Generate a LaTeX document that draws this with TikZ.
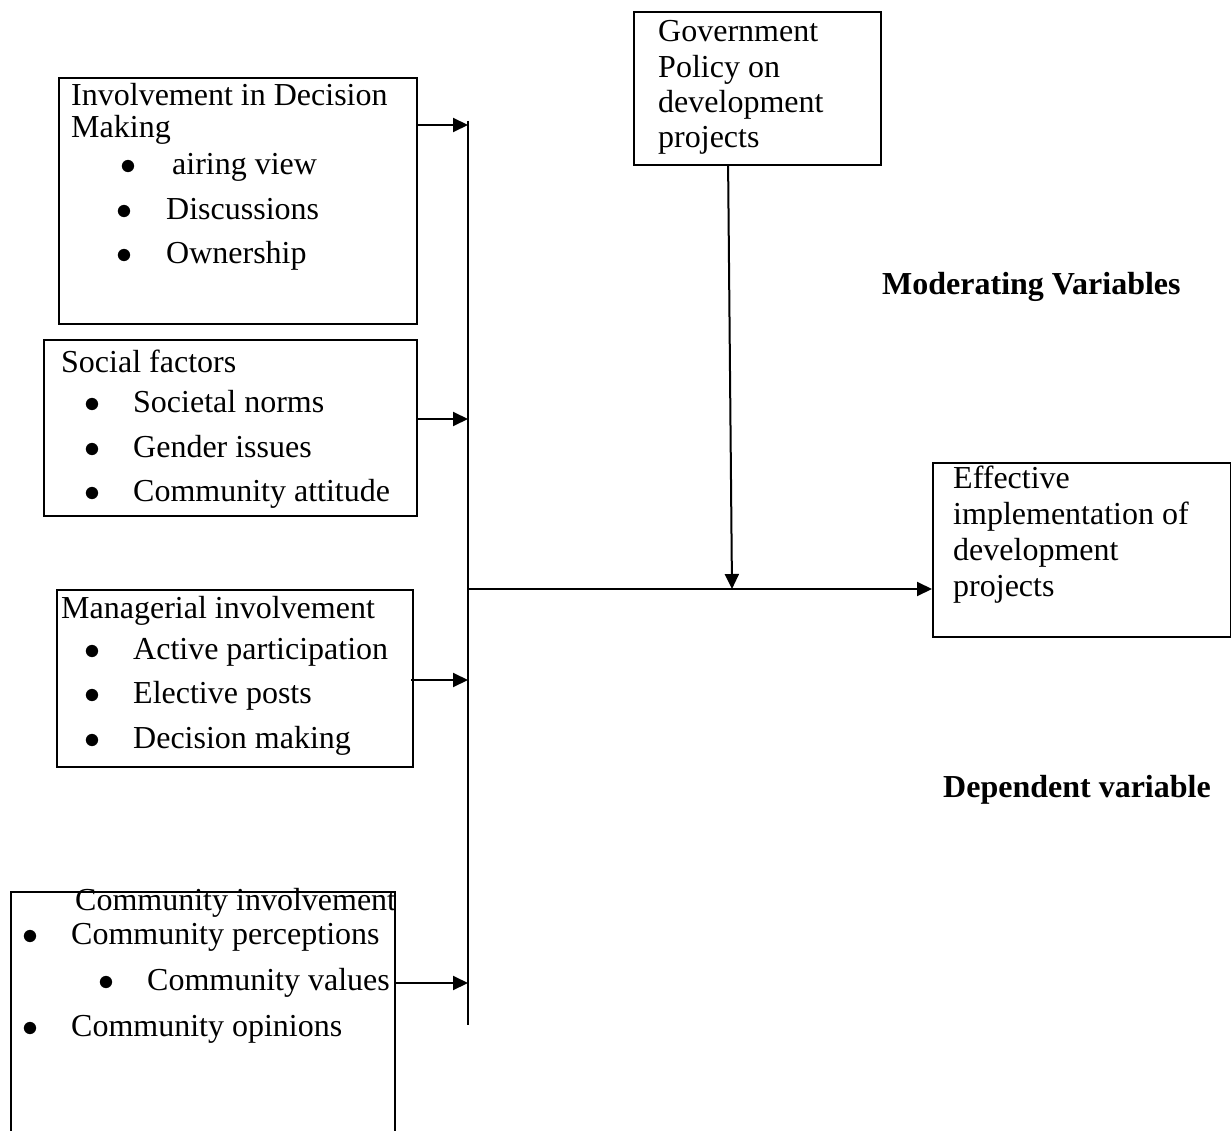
\documentclass[tikz,border=0pt]{standalone}
\usepackage{fix-cm}
\usepackage{fontspec}
\setmainfont{Liberation Serif}
\usetikzlibrary{arrows.meta}
\newcommand\bitem[5]{\node[txt] (#1) at (#2,#4) {\makebox[0pt]{$\bullet$}\hspace{\dimexpr #3pt-#2pt\relax}#5};}
\begin{document}
\begin{tikzpicture}[x=1pt,y=-1pt,
  box/.style={draw,line width=2.2pt,inner sep=0pt,anchor=north west},
  txt/.style={anchor=base west,inner sep=0pt,font=\fontsize{32}{36}\selectfont},
  lbl/.style={anchor=base west,inner sep=0pt,font=\fontsize{32}{36}\selectfont\bfseries},
  conn/.style={line width=2pt},
  arr/.style={line width=2pt,-{Triangle[length=15pt,width=14pt]}}]
\useasboundingbox (0,0) rectangle (1231,1131);
\clip (0,0) rectangle (1231,1131);
\fill[white] (0,0) rectangle (1231,1131);

% boxes
\node[box,minimum width=358pt,minimum height=246pt] (b1) at (58,77) {};
\node[box,minimum width=373pt,minimum height=176pt] (b2) at (43,339) {};
\node[box,minimum width=356pt,minimum height=177pt] (b3) at (56,589) {};
\node[box,minimum width=384pt,minimum height=270pt] (b4) at (10,891) {};
\node[box,minimum width=247pt,minimum height=153pt] (gov) at (633,11) {};
\node[box,minimum width=298pt,minimum height=174pt] (eff) at (932,462) {};

% box 1
\node[txt] (b1t1) at (71,106) {Involvement in Decision};
\node[txt] (b1t2) at (71,138) {Making};
\bitem{b1i1}{128}{172}{175}{airing view}
\bitem{b1i2}{124}{166}{220}{Discussions}
\bitem{b1i3}{124}{166}{264}{Ownership}

% box 2
\node[txt] (b2t1) at (61,373) {Social factors};
\bitem{b2i1}{92}{133}{412}{Societal norms}
\bitem{b2i2}{92}{133}{457}{Gender issues}
\bitem{b2i3}{92}{133}{501}{Community attitude}

% box 3
\node[txt] (b3t1) at (61,618) {Managerial involvement};
\bitem{b3i1}{92}{133}{659}{Active participation}
\bitem{b3i2}{92}{133}{703}{Elective posts}
\bitem{b3i3}{92}{133}{748}{Decision making}

% box 4
\node[txt] (b4t1) at (75,910) {Community involvement};
\bitem{b4i1}{30}{71}{944}{Community perceptions}
\bitem{b4i2}{106}{147}{990}{Community values}
\bitem{b4i3}{30}{71}{1036}{Community opinions}

% government box
\node[txt] (g1) at (658,42) {Government};
\node[txt] (g2) at (658,78) {Policy on};
\node[txt] (g3) at (658,113) {development};
\node[txt] (g4) at (658,148) {projects};

% effective box
\node[txt] (e1) at (953,488) {Effective};
\node[txt] (e2) at (953,524) {implementation of};
\node[txt] (e3) at (953,560) {development};
\node[txt] (e4) at (953,596) {projects};

% labels
\node[lbl] (mod) at (882,295) {Moderating Variables};
\node[lbl] (dep) at (943,797) {Dependent variable};

% connectors
\coordinate (bt) at (468,121);
\coordinate (bb) at (468,1025);
\coordinate (a1) at (468,125);
\coordinate (a2) at (468,419);
\coordinate (a3) at (468,680);
\coordinate (a4) at (468,983);
\coordinate (m) at (468,589);
\coordinate (g) at (732,589);
\draw[conn] (bt) -- (bb);
\draw[arr] (b1.east |- a1) -- (a1);
\draw[arr] (b2.east |- a2) -- (a2);
\draw[arr] ([xshift=-3pt]b3.east |- a3) -- (a3);
\draw[arr] (b4.east |- a4) -- (a4);
\draw[arr] (m) -- (eff.west |- m);
\draw[arr] ([xshift=-29.5pt]gov.south) -- (g);
\end{tikzpicture}
\end{document}
